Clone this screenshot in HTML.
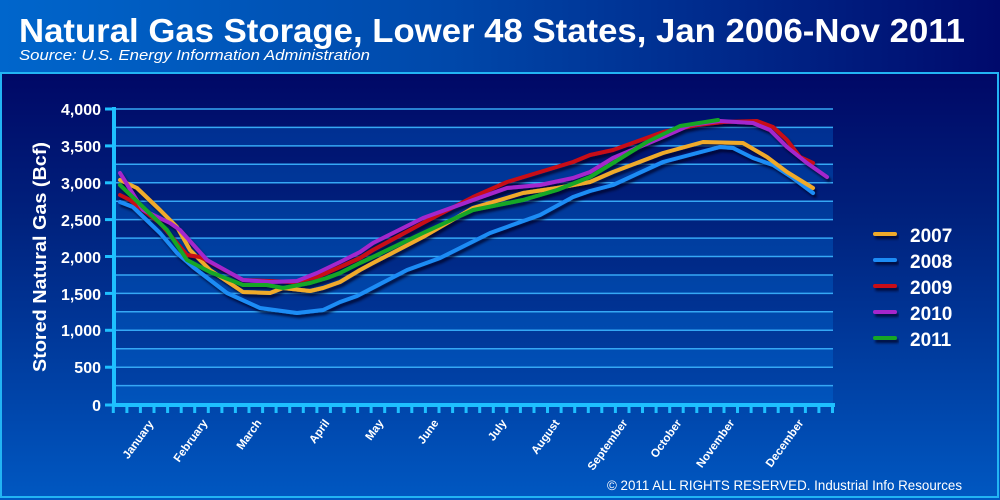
<!DOCTYPE html>
<html><head><meta charset="utf-8">
<style>
html,body{margin:0;padding:0;background:#000866;}
svg{display:block;}
text{font-family:"Liberation Sans",Arial,sans-serif;fill:#fff;}
</style></head>
<body>
<svg width="1000" height="500" viewBox="0 0 1000 500" xmlns="http://www.w3.org/2000/svg">
<defs>
<linearGradient id="hdr" x1="0" y1="0" x2="1" y2="0">
<stop offset="0" stop-color="#0066cc"/>
<stop offset="0.45" stop-color="#0048aa"/>
<stop offset="1" stop-color="#000a6c"/>
</linearGradient>
<linearGradient id="pan" x1="0" y1="0" x2="0" y2="1">
<stop offset="0" stop-color="#000866"/>
<stop offset="0.35" stop-color="#00227e"/>
<stop offset="1" stop-color="#0058c2"/>
</linearGradient>
<filter id="sh" x="-10%" y="-10%" width="130%" height="130%">
<feDropShadow dx="2" dy="3" stdDeviation="1.4" flood-color="#000020" flood-opacity="0.75"/>
</filter>
</defs>

<rect x="0" y="0" width="1000" height="73" fill="url(#hdr)"/>
<rect x="0" y="73" width="1000" height="427" fill="url(#pan)"/>
<rect x="1" y="73" width="997" height="424" fill="none" stroke="#22b4f4" stroke-width="2"/>

<text x="19" y="42" font-size="33" font-weight="bold" textLength="946" lengthAdjust="spacingAndGlyphs">Natural Gas Storage, Lower 48 States, Jan 2006-Nov 2011</text>
<text x="19" y="60" font-size="15" font-style="italic" textLength="351" lengthAdjust="spacingAndGlyphs">Source:  U.S. Energy Information Administration</text>

<!-- light bands -->
<g fill="rgba(0,120,230,0.3)">
<rect x="116" y="127.4" width="717" height="18.4"/>
<rect x="116" y="164.3" width="717" height="18.4"/>
<rect x="116" y="201.2" width="717" height="18.4"/>
<rect x="116" y="238.1" width="717" height="18.4"/>
<rect x="116" y="275.0" width="717" height="18.4"/>
<rect x="116" y="311.8" width="717" height="18.4"/>
<rect x="116" y="348.7" width="717" height="18.4"/>
<rect x="116" y="385.6" width="717" height="18.4"/>
</g>
<!-- grid lines -->
<g stroke="#35a8f5" stroke-width="1.5">
<line x1="116" x2="833" y1="109" y2="109"/>
<line x1="116" x2="833" y1="127.4" y2="127.4"/>
<line x1="116" x2="833" y1="145.9" y2="145.9"/>
<line x1="116" x2="833" y1="164.3" y2="164.3"/>
<line x1="116" x2="833" y1="182.8" y2="182.8"/>
<line x1="116" x2="833" y1="201.2" y2="201.2"/>
<line x1="116" x2="833" y1="219.6" y2="219.6"/>
<line x1="116" x2="833" y1="238.1" y2="238.1"/>
<line x1="116" x2="833" y1="256.5" y2="256.5"/>
<line x1="116" x2="833" y1="275.0" y2="275.0"/>
<line x1="116" x2="833" y1="293.4" y2="293.4"/>
<line x1="116" x2="833" y1="311.8" y2="311.8"/>
<line x1="116" x2="833" y1="330.3" y2="330.3"/>
<line x1="116" x2="833" y1="348.7" y2="348.7"/>
<line x1="116" x2="833" y1="367.2" y2="367.2"/>
<line x1="116" x2="833" y1="385.6" y2="385.6"/>
</g>

<!-- axes -->
<g stroke="#1ec0ff">
<line x1="114" y1="107" x2="114" y2="407" stroke-width="4"/>
<line x1="112" y1="405" x2="835" y2="405" stroke-width="4"/>
<g stroke-width="3">
<line x1="105" x2="114" y1="109" y2="109"/>
<line x1="105" x2="114" y1="145.9" y2="145.9"/>
<line x1="105" x2="114" y1="182.8" y2="182.8"/>
<line x1="105" x2="114" y1="219.6" y2="219.6"/>
<line x1="105" x2="114" y1="256.5" y2="256.5"/>
<line x1="105" x2="114" y1="293.4" y2="293.4"/>
<line x1="105" x2="114" y1="330.3" y2="330.3"/>
<line x1="105" x2="114" y1="367.2" y2="367.2"/>
<line x1="105" x2="114" y1="405" y2="405"/>
</g>
<path stroke-width="3" d="M113.3 405V413M126.9 405V413M140.4 405V413M154.0 405V413M167.6 405V413M181.2 405V413M194.7 405V413M208.3 405V413M221.9 405V413M235.4 405V413M249.0 405V413M262.6 405V413M276.1 405V413M289.7 405V413M303.3 405V413M316.9 405V413M330.4 405V413M344.0 405V413M357.6 405V413M371.1 405V413M384.7 405V413M398.3 405V413M411.8 405V413M425.4 405V413M439.0 405V413M452.6 405V413M466.1 405V413M479.7 405V413M493.3 405V413M506.8 405V413M520.4 405V413M534.0 405V413M547.5 405V413M561.1 405V413M574.7 405V413M588.3 405V413M601.8 405V413M615.4 405V413M629.0 405V413M642.5 405V413M656.1 405V413M669.7 405V413M683.2 405V413M696.8 405V413M710.4 405V413M724.0 405V413M737.5 405V413M751.1 405V413M764.7 405V413M778.2 405V413M791.8 405V413M805.4 405V413M818.9 405V413M832.5 405V413"/>
</g>

<!-- y labels -->
<g font-size="16" font-weight="bold" text-anchor="end">
<text x="101" y="115">4,000</text>
<text x="101" y="152">3,500</text>
<text x="101" y="189">3,000</text>
<text x="101" y="226">2,500</text>
<text x="101" y="263">2,000</text>
<text x="101" y="300">1,500</text>
<text x="101" y="336">1,000</text>
<text x="101" y="373">500</text>
<text x="101" y="411">0</text>
</g>
<text transform="translate(46,257) rotate(-90)" font-size="18" font-weight="bold" text-anchor="middle" textLength="230" lengthAdjust="spacingAndGlyphs">Stored Natural Gas (Bcf)</text>

<!-- month labels -->
<g font-size="11.5" font-weight="bold" text-anchor="end">
<text transform="translate(154,424) rotate(-54)">January</text>
<text transform="translate(208,423) rotate(-54)">February</text>
<text transform="translate(262,423) rotate(-54)">March</text>
<text transform="translate(330,423) rotate(-54)">April</text>
<text transform="translate(384,423) rotate(-54)">May</text>
<text transform="translate(439,423) rotate(-54)">June</text>
<text transform="translate(507,423) rotate(-54)">July</text>
<text transform="translate(560,423) rotate(-54)">August</text>
<text transform="translate(628,423) rotate(-54)">September</text>
<text transform="translate(682,423) rotate(-54)">October</text>
<text transform="translate(735,423) rotate(-54)">November</text>
<text transform="translate(804,423) rotate(-54)">December</text>
</g>

<!-- series -->
<g fill="none" stroke-width="4" stroke-linejoin="round" stroke-linecap="round" filter="url(#sh)">
<polyline stroke="#1e8cf5" points="120,202 133,207 160,233 177,253 193,267 227,293 260,308 297,313 323,310 340,302 357,296 407,270 440,258 490,233 540,215 573,197 590,191 613,185 663,162 697,153 720,147 733,148 753,158 773,165 793,178 813,193"/>
<polyline stroke="#f0aa2a" points="120,180 137,188 160,210 177,227 190,250 210,270 243,292 270,293 283,288 310,291 323,288 340,282 360,270 373,263 423,237 473,208 523,193 557,188 590,182 613,172 663,153 703,142 743,143 767,157 787,172 813,188"/>
<polyline stroke="#c80a14" points="120,195 130,200 160,223 187,255 200,257 210,262 243,280 293,282 317,277 340,267 360,258 373,250 423,223 473,197 507,182 540,172 573,162 590,155 613,150 663,132 697,125 723,122 757,121 773,127 787,140 800,157 813,163"/>
<polyline stroke="#a428cc" points="120,173 143,210 170,223 180,230 207,260 243,280 270,282 297,281 317,273 340,262 360,252 373,243 423,218 473,200 507,188 540,185 573,178 590,172 613,158 663,137 690,125 720,121 753,123 770,130 787,147 807,163 827,177"/>
<polyline stroke="#14a626" points="120,185 143,207 167,230 187,260 210,272 243,285 267,285 283,288 310,283 327,278 340,273 360,263 373,257 423,233 473,210 523,200 557,190 590,177 613,163 647,142 680,126 718,120"/>
</g>

<!-- legend -->
<g stroke-width="4" stroke-linecap="round" filter="url(#sh)">
<line x1="875" x2="895" y1="234" y2="234" stroke="#f0aa2a"/>
<line x1="875" x2="895" y1="260" y2="260" stroke="#1e8cf5"/>
<line x1="875" x2="895" y1="286" y2="286" stroke="#c80a14"/>
<line x1="875" x2="895" y1="312" y2="312" stroke="#a428cc"/>
<line x1="875" x2="895" y1="338" y2="338" stroke="#14a626"/>
</g>
<g font-size="19" font-weight="bold">
<text x="910" y="242">2007</text>
<text x="910" y="268">2008</text>
<text x="910" y="294">2009</text>
<text x="910" y="320">2010</text>
<text x="910" y="346">2011</text>
</g>

<text x="607" y="490" font-size="13.5" textLength="355" lengthAdjust="spacingAndGlyphs">© 2011 ALL RIGHTS RESERVED. Industrial Info Resources</text>
</svg>
</body></html>
